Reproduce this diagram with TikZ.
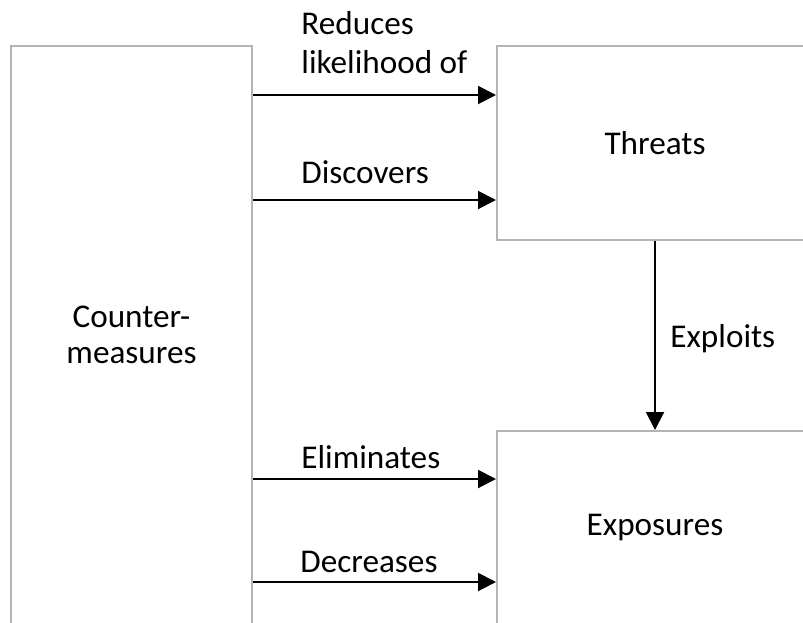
\documentclass[tikz,border=0pt]{standalone}
\usepackage{fontspec}
\setmainfont{Carlito}
\usepackage{xcolor}
\usetikzlibrary{arrows.meta}

\definecolor{boxgray}{RGB}{180,180,180}

\tikzset{
  box/.style={draw=boxgray, line width=1pt, fill=white, inner sep=0pt, align=center},
  flow/.style={-{Triangle[length=9pt,width=9pt]}, line width=1pt},
  lbl/.style={inner sep=0pt, anchor=base west, align=left}
}

\begin{document}
\begin{tikzpicture}[x=0.5pt, y=-0.5pt, font=\fontsize{16.6pt}{18pt}\selectfont]
\useasboundingbox (0,0) rectangle (803,622);
\clip (0,0) rectangle (803,622);

% boxes
\node[box, minimum width=120.5pt, minimum height=289pt] (cm) at (131.5,335) {Counter-\\measures};
\node[box, minimum width=158pt, minimum height=97pt] (thr) at (655,143) {Threats};
\node[box, minimum width=158pt, minimum height=96.5pt] (exp) at (655,527.5) {Exposures};

% arrows
\draw[flow] (cm.east |- 0,95) -- (thr.west |- 0,95);
\draw[flow] (cm.east |- 0,200) -- (thr.west |- 0,200);
\draw[flow] (cm.east |- 0,479) -- (exp.west |- 0,479);
\draw[flow] (cm.east |- 0,582) -- (exp.west |- 0,582);
\draw[flow] (thr.south) -- (exp.north);

% labels
\node[lbl, font=\fontsize{16.6pt}{19.5pt}\selectfont] (reduces) at (301,73) {Reduces\\likelihood of};
\node[lbl] (discovers) at (301,183) {Discovers};
\node[lbl] (eliminates) at (301,468) {Eliminates};
\node[lbl] (decreases) at (300,572) {Decreases};
\node[lbl] (exploits) at (670,347) {Exploits};
\end{tikzpicture}
\end{document}
